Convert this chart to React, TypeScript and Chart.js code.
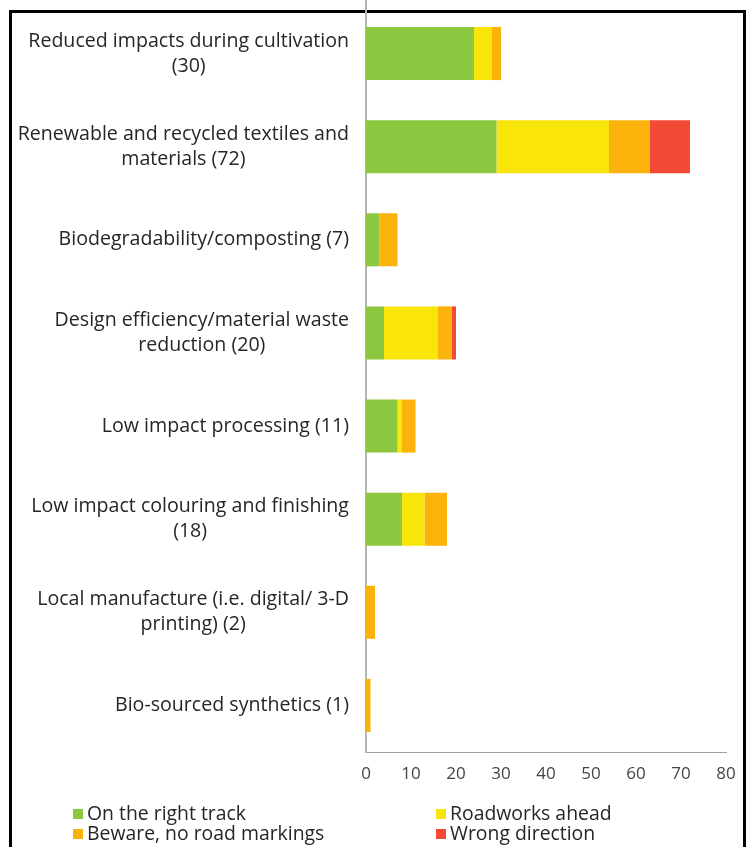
import React, { useEffect, useRef } from "react";
import { Chart, registerables } from "chart.js";

Chart.register(...registerables);

const categories: string[][] = [
  ["Reduced impacts during cultivation", "(30)"],
  ["Renewable and recycled textiles and", "materials (72)"],
  ["Biodegradability/composting (7)"],
  ["Design efficiency/material waste", "reduction (20)"],
  ["Low impact processing (11)"],
  ["Low impact colouring and finishing", "(18)"],
  ["Local manufacture (i.e. digital/ 3-D", "printing) (2)"],
  ["Bio-sourced synthetics (1)"],
];

const seriesNames = [
  "On the right track",
  "Roadworks ahead",
  "Beware, no road markings",
  "Wrong direction",
];

const onTrack = [24, 29, 3, 4, 7, 8, 0, 0];
const roadworks = [4, 25, 0, 12, 1, 5, 0, 0];
const beware = [2, 9, 4, 3, 3, 5, 2, 1];
const wrongDir = [0, 9, 0, 1, 0, 0, 0, 0];

const xTicks = [0, 10, 20, 30, 40, 50, 60, 70, 80];

const colors = ["#8BC83F", "#F9E509", "#FBB30B", "#F34A36"];

const FONT = '"Open Sans", "DejaVu Sans", sans-serif';

export default function App() {
  const ref = useRef<HTMLCanvasElement | null>(null);

  useEffect(() => {
    if (!ref.current) return;

    const labelPlugin = {
      id: "customLabels",
      afterDraw(chart: any) {
        const ctx = chart.ctx;
        const ys = chart.scales.y;
        const xs = chart.scales.x;
        ctx.save();
        ctx.strokeStyle = "#b4b4b4";
        ctx.lineWidth = 2;
        ctx.beginPath();
        ctx.moveTo(xs.left, 0);
        ctx.lineTo(xs.left, chart.chartArea.top);
        ctx.stroke();

        ctx.font = "19.6px " + FONT;
        ctx.fillStyle = "#262626";
        ctx.textAlign = "center";
        ctx.textBaseline = "middle";
        const rightEdge = xs.left - 17;
        const lh = 25;
        categories.forEach((lines, i) => {
          const yc = ys.getPixelForValue(i);
          const maxW = Math.max(...lines.map((l) => ctx.measureText(l).width));
          const cx = rightEdge - maxW / 2;
          const y0 = yc - ((lines.length - 1) * lh) / 2;
          lines.forEach((l, j) => ctx.fillText(l, cx, y0 + j * lh));
        });

        const cols = [73, 436];
        const rows = [814, 834];
        ctx.textAlign = "left";
        ctx.font = "19.4px " + FONT;
        chart.data.datasets.forEach((ds: any, k: number) => {
          const cx = cols[k % 2];
          const cy = rows[Math.floor(k / 2)];
          ctx.fillStyle = ds.backgroundColor;
          ctx.fillRect(cx, cy - 5, 10, 10);
          ctx.fillStyle = "#262626";
          ctx.fillText(ds.label, cx + 14, cy);
        });
        ctx.restore();
      },
    };

    const chart = new Chart(ref.current, {
      type: "bar",
      data: {
        labels: categories.map((c) => c.join(" ")),
        datasets: [onTrack, roadworks, beware, wrongDir].map((d, k) => ({
          label: seriesNames[k],
          data: d,
          backgroundColor: colors[k],
          borderWidth: 0,
          barPercentage: 0.57,
          categoryPercentage: 1,
        })),
      },
      options: {
        indexAxis: "y",
        responsive: false,
        animation: false,
        layout: { padding: { left: 366, right: 24, top: 7, bottom: 0 } },
        plugins: { legend: { display: false }, tooltip: { enabled: false } },
        scales: {
          x: {
            stacked: true,
            min: 0,
            max: 80,
            afterBuildTicks: (s: any) => {
              s.ticks = xTicks.map((v) => ({ value: v }));
            },
            afterFit: (s: any) => {
              s.height = 95;
            },
            grid: { display: false, drawTicks: false },
            border: { display: true, color: "#a0a0a0", width: 1 },
            ticks: {
              color: "#444444",
              font: { family: FONT, size: 17 },
              padding: 12,
              maxRotation: 0,
            },
          },
          y: {
            stacked: true,
            afterFit: (s: any) => {
              s.width = 0;
            },
            grid: { display: false, drawTicks: false },
            border: { display: true, color: "#b4b4b4", width: 2 },
            ticks: { display: false },
          },
        },
      },
      plugins: [labelPlugin],
    } as any);

    return () => chart.destroy();
  }, []);

  return (
    <div>
      <div
        style={{
          position: "fixed",
          left: 9,
          top: 10,
          width: 737,
          height: 900,
          boxSizing: "border-box",
          borderTop: "3px solid #000",
          borderLeft: "3px solid #000",
          borderRight: "3px solid #000",
          background: "#fff",
        }}
      />
      <canvas
        ref={ref}
        width={750}
        height={847}
        style={{ position: "fixed", left: 0, top: 0, width: 750, height: 847 }}
      />
    </div>
  );
}
